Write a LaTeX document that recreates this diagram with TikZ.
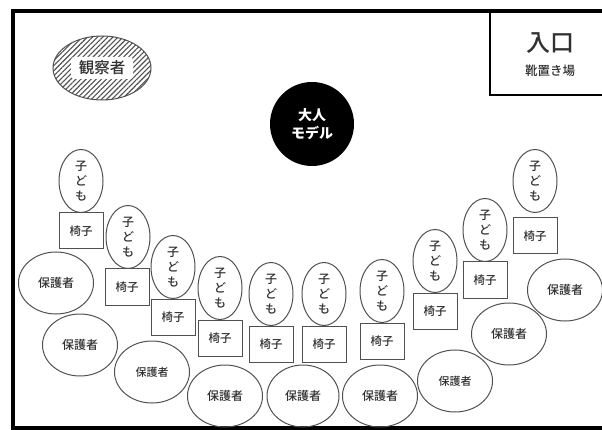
\documentclass[tikz,border=0pt]{standalone}
\usepackage{fontspec}
\setmainfont{Noto Sans CJK JP}[UprightFont=* Medium]
\usetikzlibrary{shapes.geometric,patterns.meta}
\definecolor{linecol}{HTML}{505050}
\definecolor{txtcol}{HTML}{303030}
\begin{document}
\begin{tikzpicture}[x=1pt,y=-1pt,
  every node/.style={text=txtcol},
  child/.style={ellipse, draw=linecol, line width=1pt, minimum width=44pt, minimum height=63pt, inner sep=0pt, align=center, font=\fontsize{12}{15}\selectfont},
  chair/.style={rectangle, draw=linecol, line width=1pt, minimum width=44pt, minimum height=36pt, inner sep=0pt, font=\fontsize{11.5}{13}\selectfont},
  guard/.style={ellipse, draw=linecol, line width=1pt, minimum width=75pt, minimum height=62pt, inner sep=0pt, font=\fontsize{12}{14}\selectfont},
  guards/.style={guard, font=\fontsize{11}{13}\selectfont}
]
\useasboundingbox (0,0) rectangle (602,430);
% room frame
\draw[line width=3.5pt, black] (620,11) -- (13,11) -- (13,428) -- (620,428);
% entrance
\draw[line width=2.5pt, black] (490,11) -- (490,95) -- (620,95);
\node (entr) at (550,43) {\fontsize{24}{26}\selectfont 入口};
\node (shoe) at (550,71) {\fontsize{12.5}{14}\selectfont 靴置き場};
% observer
\node (obs) [ellipse, draw=linecol, line width=1pt, minimum width=98pt, minimum height=64pt,
  pattern={Lines[angle=45,distance=3.6pt,line width=1.1pt]}, pattern color=linecol] at (102,68) {};
\node (obst) [fill=white, rounded corners=3pt, minimum width=62pt, minimum height=22pt, inner sep=0pt,
  font=\fontsize{15.5}{17}\selectfont] at (obs.center) {観察者};
% adult model
\node (adult) [circle, fill=black, minimum size=84pt, inner sep=0pt, align=center, text=white,
  font=\fontsize{14}{18}\bfseries] at (312,124) {大人\\モデル};
% children and chairs
\node[child] (c1) at (81,181) {子\\ど\\も};
\node[chair] (s1) at (81,231) {椅子};
\node[child] (c2) at (128,237) {子\\ど\\も};
\node[chair] (s2) at (127,287) {椅子};
\node[child] (c3) at (173,267) {子\\ど\\も};
\node[chair] (s3) at (173,317) {椅子};
\node[child] (c4) at (220,288) {子\\ど\\も};
\node[chair] (s4) at (220,338) {椅子};
\node[child] (c5) at (271,294) {子\\ど\\も};
\node[chair] (s5) at (271,344) {椅子};
\node[child] (c6) at (324,294) {子\\ど\\も};
\node[chair] (s6) at (324,344) {椅子};
\node[child] (c7) at (382,291) {子\\ど\\も};
\node[chair] (s7) at (382,341) {椅子};
\node[child] (c8) at (435,261) {子\\ど\\も};
\node[chair] (s8) at (435,311) {椅子};
\node[child] (c9) at (485,230) {子\\ど\\も};
\node[chair] (s9) at (485,280) {椅子};
\node[child] (c10) at (535,181) {子\\ど\\も};
\node[chair] (s10) at (535,236) {椅子};
% guardians
\node[guard] (g1) at (56,283) {保護者};
\node[guard] (g2) at (80,345) {保護者};
\node[guards] (g3) at (152,372) {保護者};
\node[guard] (g4) at (225,396) {保護者};
\node[guard, minimum width=72pt] (g5) at (303,396) {保護者};
\node[guard] (g6) at (380,396) {保護者};
\node[guards] (g7) at (455,381) {保護者};
\node[guard] (g8) at (509,334) {保護者};
\node[guard] (g9) at (565,290) {保護者};
\end{tikzpicture}
\end{document}
